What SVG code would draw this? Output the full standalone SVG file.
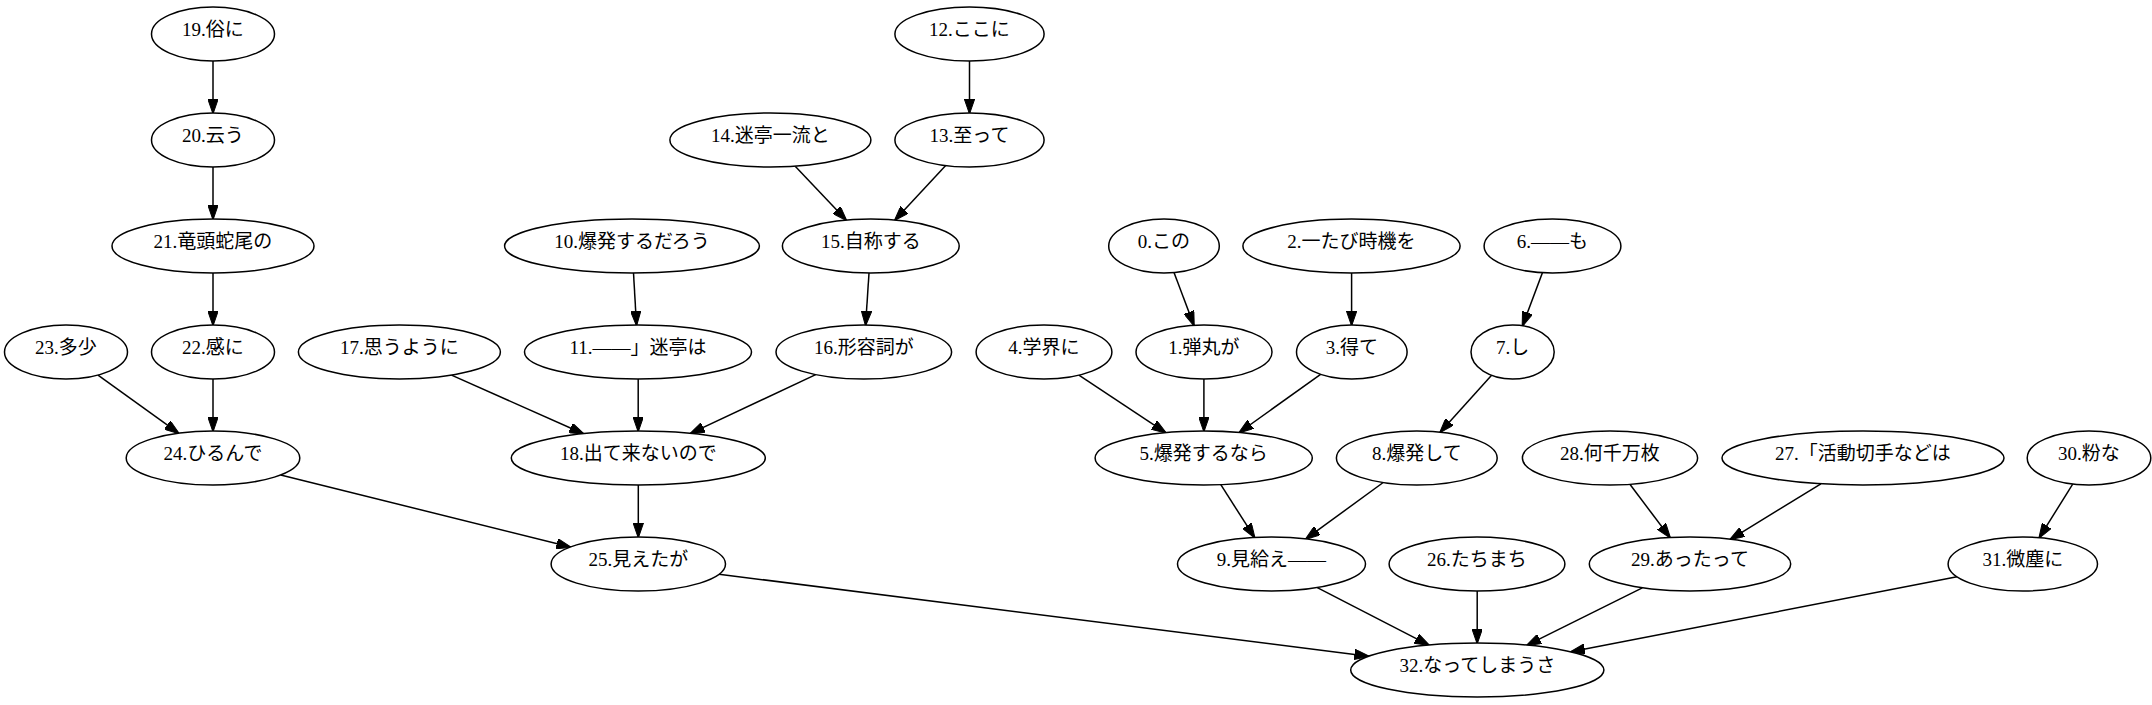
<svg xmlns="http://www.w3.org/2000/svg" width="2152" height="705" viewBox="0 0 2152 705">
<defs>
<style>
.n ellipse{fill:#fff;stroke:#000;stroke-width:1.5}
.n text{font-family:"Liberation Serif","Noto Sans CJK JP",serif;font-size:19px;text-anchor:middle;fill:#000}
#edges line{stroke:#000;stroke-width:1.5;marker-end:url(#ah)}
</style>
<marker id="ah" markerUnits="userSpaceOnUse" viewBox="0 0 15 10.4" refX="14" refY="5.2" markerWidth="15" markerHeight="10.4" orient="auto">
<path d="M0,0 L15,5.2 L0,10.4 z" fill="#000" stroke="#000" stroke-width="1"/>
</marker>
</defs>
<rect width="2152" height="705" fill="#fff"/>
<g id="edges">
<line x1="213" y1="61" x2="213" y2="113"/>
<line x1="213" y1="167" x2="213" y2="219"/>
<line x1="213" y1="273" x2="213" y2="325"/>
<line x1="213" y1="379" x2="213" y2="431"/>
<line x1="98" y1="375.1" x2="178.6" y2="433.2"/>
<line x1="280.7" y1="474.9" x2="570.4" y2="547.1"/>
<line x1="719" y1="574.2" x2="1368.4" y2="656.2"/>
<line x1="969.5" y1="61" x2="969.5" y2="113"/>
<line x1="945.7" y1="165.6" x2="895" y2="220"/>
<line x1="795.2" y1="166.2" x2="846.2" y2="220.1"/>
<line x1="869" y1="273" x2="865.6" y2="325"/>
<line x1="633.5" y1="273" x2="636.5" y2="325"/>
<line x1="638.2" y1="379" x2="638.2" y2="431"/>
<line x1="451.5" y1="375.1" x2="583.4" y2="433.7"/>
<line x1="815.7" y1="374.6" x2="690.6" y2="433.4"/>
<line x1="638.3" y1="485" x2="638.3" y2="537"/>
<line x1="1174" y1="272.6" x2="1193.9" y2="325.3"/>
<line x1="1351.6" y1="273" x2="1351.6" y2="325"/>
<line x1="1542.4" y1="272.7" x2="1522.5" y2="325.8"/>
<line x1="1078.9" y1="375.2" x2="1165.6" y2="432.7"/>
<line x1="1203.9" y1="379" x2="1203.9" y2="431"/>
<line x1="1320.6" y1="374.3" x2="1239.3" y2="432.5"/>
<line x1="1491.6" y1="375.3" x2="1440.2" y2="432.2"/>
<line x1="1220.8" y1="484.7" x2="1254.5" y2="537.4"/>
<line x1="1383.2" y1="482.5" x2="1305.9" y2="538.9"/>
<line x1="1317.3" y1="587.6" x2="1428.9" y2="645.1"/>
<line x1="1477.2" y1="591" x2="1477.2" y2="643"/>
<line x1="1629.9" y1="484.3" x2="1670" y2="537.5"/>
<line x1="1820.9" y1="483.8" x2="1730.4" y2="539.3"/>
<line x1="1642.3" y1="587.8" x2="1527.1" y2="645.2"/>
<line x1="2072.7" y1="484.1" x2="2039.3" y2="537.7"/>
<line x1="1957" y1="576.8" x2="1570.9" y2="651.8"/>
</g>
<g id="n19" class="n"><ellipse cx="213" cy="34" rx="61.5" ry="27"/><text x="213" y="36">19.俗に</text></g>
<g id="n20" class="n"><ellipse cx="213" cy="140" rx="61.5" ry="27"/><text x="213" y="142">20.云う</text></g>
<g id="n21" class="n"><ellipse cx="213" cy="246" rx="101" ry="27"/><text x="213" y="248">21.竜頭蛇尾の</text></g>
<g id="n22" class="n"><ellipse cx="213" cy="352" rx="61.5" ry="27"/><text x="213" y="354">22.感に</text></g>
<g id="n23" class="n"><ellipse cx="66" cy="352" rx="61.5" ry="27"/><text x="66" y="354">23.多少</text></g>
<g id="n24" class="n"><ellipse cx="213" cy="458" rx="86.8" ry="27"/><text x="213" y="460">24.ひるんで</text></g>
<g id="n25" class="n"><ellipse cx="638.3" cy="564" rx="87.2" ry="27"/><text x="638.3" y="566">25.見えたが</text></g>
<g id="n12" class="n"><ellipse cx="969.5" cy="34" rx="74.6" ry="27"/><text x="969.5" y="36">12.ここに</text></g>
<g id="n13" class="n"><ellipse cx="969.5" cy="140" rx="74.6" ry="27"/><text x="969.5" y="142">13.至って</text></g>
<g id="n14" class="n"><ellipse cx="770.4" cy="140" rx="100.5" ry="27"/><text x="770.4" y="142">14.迷亭一流と</text></g>
<g id="n15" class="n"><ellipse cx="870.8" cy="246" rx="88.4" ry="27"/><text x="870.8" y="248">15.自称する</text></g>
<g id="n16" class="n"><ellipse cx="863.8" cy="352" rx="87.8" ry="27"/><text x="863.8" y="354">16.形容詞が</text></g>
<g id="n10" class="n"><ellipse cx="632" cy="246" rx="127.4" ry="27"/><text x="632" y="248">10.爆発するだろう</text></g>
<g id="n11" class="n"><ellipse cx="638" cy="352" rx="113.5" ry="27"/><text x="638" y="354">11.――」迷亭は</text></g>
<g id="n17" class="n"><ellipse cx="399.4" cy="352" rx="101" ry="27"/><text x="399.4" y="354">17.思うように</text></g>
<g id="n18" class="n"><ellipse cx="638.3" cy="458" rx="127" ry="27"/><text x="638.3" y="460">18.出て来ないので</text></g>
<g id="n0" class="n"><ellipse cx="1164" cy="246" rx="55.3" ry="27"/><text x="1164" y="248">0.この</text></g>
<g id="n2" class="n"><ellipse cx="1351.5" cy="246" rx="108.6" ry="27"/><text x="1351.5" y="248">2.一たび時機を</text></g>
<g id="n6" class="n"><ellipse cx="1552.5" cy="246" rx="68.4" ry="27"/><text x="1552.5" y="248">6.――も</text></g>
<g id="n4" class="n"><ellipse cx="1044" cy="352" rx="67.9" ry="27"/><text x="1044" y="354">4.学界に</text></g>
<g id="n1" class="n"><ellipse cx="1204" cy="352" rx="68" ry="27"/><text x="1204" y="354">1.弾丸が</text></g>
<g id="n3" class="n"><ellipse cx="1351.8" cy="352" rx="55.3" ry="27"/><text x="1351.8" y="354">3.得て</text></g>
<g id="n7" class="n"><ellipse cx="1512.6" cy="352" rx="41.6" ry="27"/><text x="1512.6" y="354">7.し</text></g>
<g id="n5" class="n"><ellipse cx="1203.7" cy="458" rx="108.6" ry="27"/><text x="1203.7" y="460">5.爆発するなら</text></g>
<g id="n8" class="n"><ellipse cx="1416.8" cy="458" rx="80.4" ry="27"/><text x="1416.8" y="460">8.爆発して</text></g>
<g id="n28" class="n"><ellipse cx="1610" cy="458" rx="87.6" ry="27"/><text x="1610" y="460">28.何千万枚</text></g>
<g id="n27" class="n"><ellipse cx="1863" cy="458" rx="141" ry="27"/><text x="1863" y="460">27.「活動切手などは</text></g>
<g id="n30" class="n"><ellipse cx="2089" cy="458" rx="61.8" ry="27"/><text x="2089" y="460">30.粉な</text></g>
<g id="n9" class="n"><ellipse cx="1271.5" cy="564" rx="94" ry="27"/><text x="1271.5" y="566">9.見給え――</text></g>
<g id="n26" class="n"><ellipse cx="1477" cy="564" rx="87.9" ry="27"/><text x="1477" y="566">26.たちまち</text></g>
<g id="n29" class="n"><ellipse cx="1690" cy="564" rx="100.7" ry="27"/><text x="1690" y="566">29.あったって</text></g>
<g id="n31" class="n"><ellipse cx="2022.8" cy="564" rx="74.7" ry="27"/><text x="2022.8" y="566">31.微塵に</text></g>
<g id="n32" class="n"><ellipse cx="1477.3" cy="670" rx="126.6" ry="27"/><text x="1477.3" y="672">32.なってしまうさ</text></g>
</svg>
